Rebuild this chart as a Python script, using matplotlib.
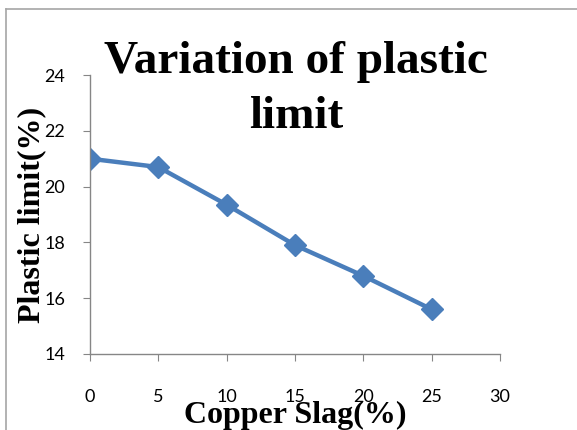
import matplotlib.pyplot as plt
from matplotlib.lines import Line2D

copper_slag = [0, 5, 10, 15, 20, 25]
plastic_limit = [21.0, 20.7, 19.35, 17.9, 16.8, 15.6]
x_ticks = [0, 5, 10, 15, 20, 25, 30]
y_ticks = [14, 16, 18, 20, 22, 24]

fig = plt.figure(figsize=(5.77, 4.30), dpi=100)
ax = fig.add_axes([90 / 577, 1 - 354 / 430, 410 / 577, 279 / 430])

ax.plot(copper_slag, plastic_limit, color='#4a7ebb', lw=3.2,
        marker='D', markersize=11, markerfacecolor='#4a7ebb', markeredgecolor='#4a7ebb')

ax.set_xlim(0, 30)
ax.set_ylim(14, 24)
ax.set_xticks(x_ticks)
ax.set_yticks(y_ticks)
for s in ['top', 'right']:
    ax.spines[s].set_visible(False)
for s in ['left', 'bottom']:
    ax.spines[s].set_color('#868686')
    ax.spines[s].set_linewidth(1.0)
ax.tick_params(axis='both', direction='out', length=5, color='#868686', labelsize=13)
ax.tick_params(axis='x', pad=20)
ax.tick_params(axis='y', pad=13)
for lab in ax.get_xticklabels() + ax.get_yticklabels():
    lab.set_family(['Lato', 'DejaVu Sans'])

title_font = dict(family='Liberation Serif', weight='bold', fontsize=34, ha='center', va='baseline')
fig.text(296 / 577, 1 - 73 / 430, 'Variation of plastic', **title_font)
fig.text(296 / 577, 1 - 128 / 430, 'limit', **title_font)
fig.text(295 / 577, 1 - 423 / 430, 'Copper Slag(%)', ha='center', va='baseline',
         family='Liberation Serif', weight='bold', fontsize=23)
fig.text(32 / 577, 1 - 215 / 430, 'Plastic limit(%)', ha='center', va='center', rotation=90,
         family='Liberation Serif', weight='bold', fontsize=23)

# chart frame
fig.add_artist(Line2D([6 / 577, 6 / 577], [0, 1 - 9 / 430], color='#a6a6a6', lw=1.2))
fig.add_artist(Line2D([6 / 577, 1], [1 - 9 / 430, 1 - 9 / 430], color='#a6a6a6', lw=1.2))

fig.savefig('out.png', dpi=100)
